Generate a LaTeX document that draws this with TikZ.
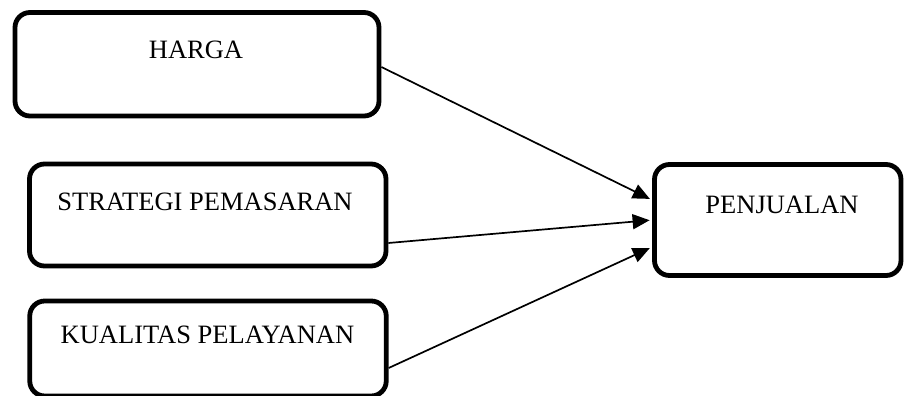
\documentclass[tikz,border=0pt]{standalone}
\usepackage{fontspec}
\setmainfont{Liberation Serif}
\usetikzlibrary{arrows.meta}
\begin{document}
\begin{tikzpicture}[x=1pt,y=-1pt,
  varbox/.style={draw=black, line width=4.8pt, rounded corners=15pt,
    rectangle, inner sep=0pt, fill=white},
  boxtext/.style={anchor=base, inner sep=0pt,
    font=\fontsize{26.5}{30}\selectfont},
  link/.style={line width=1.7pt, shorten >=2.5pt,
    -{Triangle[length=17pt,width=15pt]}}]
\useasboundingbox (0,0) rectangle (905,396);

% boxes
\node[varbox, minimum width=364pt, minimum height=103.5pt] (harga) at (197,64.25) {};
\node[varbox, minimum width=356.5pt, minimum height=102pt] (strategi) at (207.75,215) {};
\node[varbox, minimum width=356.5pt, minimum height=95pt] (kualitas) at (208,348.5) {};
\node[varbox, minimum width=246.5pt, minimum height=111pt] (penjualan) at (777.75,220) {};

% labels
\node[boxtext] (tharga) at (196,59) {HARGA};
\node[boxtext] (tstrategi) at (205,210) {STRATEGI PEMASARAN};
\node[boxtext] (tkualitas) at (207.5,343) {KUALITAS PELAYANAN};
\node[boxtext] (tpenjualan) at (782,213) {PENJUALAN};

% connectors
\draw[link] ([yshift=-2.75pt]harga.east) -- ([yshift=20pt]penjualan.west);
\draw[link] ([yshift=-28pt]strategi.east) -- (penjualan.west);
\draw[link] ([yshift=-19.5pt]kualitas.east) -- ([yshift=-27pt]penjualan.west);
\end{tikzpicture}
\end{document}
